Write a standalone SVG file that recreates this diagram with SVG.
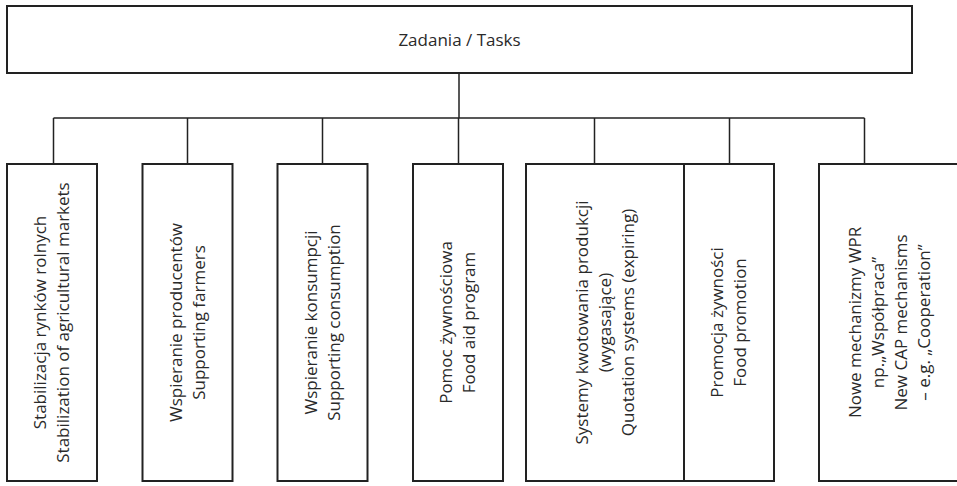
<svg xmlns="http://www.w3.org/2000/svg" width="957" height="486" viewBox="0 0 957 486">
<style>
.box{fill:#fff;stroke:#222;stroke-width:2}
.con{fill:none;stroke:#222;stroke-width:1.5}
.t{font-family:"Open Sans","Noto Sans","Liberation Sans",sans-serif;font-size:17px;font-weight:400;fill:#2a2a2a;text-anchor:middle}
</style>
<rect width="957" height="486" fill="#fff"/>
<g id="connectors">
<path class="con" d="M459,73V118M53.5,118H864.5M53.5,118V164M187.5,118V164M322.5,118V164M458.5,118V164M594.5,118V164M729.5,118V164M864.5,118V164"/>
</g>
<g id="root">
<rect class="box" x="7" y="6" width="905" height="67"/>
<text class="t" x="459.5" y="46">Zadania / Tasks</text>
</g>
<g id="n1">
<rect class="box" x="7" y="164" width="90" height="317"/>
<text class="t" transform="translate(52,322.5) rotate(-90)"><tspan x="0" y="-5.8">Stabilizacja rynków rolnych</tspan><tspan x="0" y="17.2">Stabilization of agricultural markets</tspan></text>
</g>
<g id="n2">
<rect class="box" x="142.5" y="164" width="90" height="317"/>
<text class="t" transform="translate(187.5,322.5) rotate(-90)"><tspan x="0" y="-5.8">Wspieranie producentów</tspan><tspan x="0" y="17.2">Supporting farmers</tspan></text>
</g>
<g id="n3">
<rect class="box" x="277.5" y="164" width="90" height="317"/>
<text class="t" transform="translate(322.5,322.5) rotate(-90)"><tspan x="0" y="-5.8">Wspieranie konsumpcji</tspan><tspan x="0" y="17.2">Supporting consumption</tspan></text>
</g>
<g id="n4">
<rect class="box" x="413" y="164" width="90" height="317"/>
<text class="t" transform="translate(458,322.5) rotate(-90)"><tspan x="0" y="-5.8">Pomoc żywnościowa</tspan><tspan x="0" y="17.2">Food aid program</tspan></text>
</g>
<g id="n5">
<rect class="box" x="526" y="164" width="158" height="317"/>
<text class="t" transform="translate(605,322.5) rotate(-90)"><tspan x="0" y="-17.3">Systemy kwotowania produkcji</tspan><tspan x="0" y="5.7">(wygasające)</tspan><tspan x="0" y="28.7">Quotation systems (expiring)</tspan></text>
</g>
<g id="n6">
<rect class="box" x="684" y="164" width="90" height="317"/>
<text class="t" transform="translate(729,322.5) rotate(-90)"><tspan x="0" y="-5.8">Promocja żywności</tspan><tspan x="0" y="17.2">Food promotion</tspan></text>
</g>
<g id="n7">
<rect class="box" x="819" y="164" width="142" height="317"/>
<text class="t" transform="translate(889.5,322.5) rotate(-90)"><tspan x="0" y="-28.8">Nowe mechanizmy WPR</tspan><tspan x="0" y="-5.8">np.„Współpraca”</tspan><tspan x="0" y="17.2">New CAP mechanisms</tspan><tspan x="0" y="40.2">– e.g. „Cooperation”</tspan></text>
</g>
</svg>
